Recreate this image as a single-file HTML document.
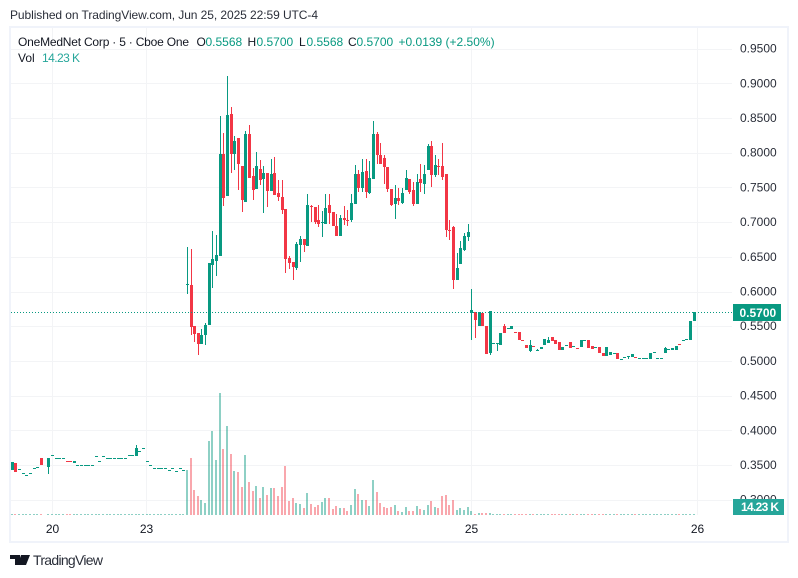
<!DOCTYPE html>
<html lang="en">
<head>
<meta charset="utf-8">
<title>OneMedNet Corp chart</title>
<style>
html,body{margin:0;padding:0;background:#fff;width:798px;height:578px;overflow:hidden}
svg{display:block;font-family:"Liberation Sans",sans-serif;font-size:12px;fill:#131722}
</style>
</head>
<body>
<svg id="chart" width="798" height="578" viewBox="0 0 798 578" xmlns="http://www.w3.org/2000/svg">
  <text x="10" y="19" textLength="308" fill="#2a2e39">Published on TradingView.com, Jun 25, 2025 22:59 UTC-4</text>
  <rect x="10" y="27" width="778" height="515" fill="none" stroke="#f0f3fa" stroke-width="2"/>
  <g id="grid"></g>
  <g id="volumes"></g>
  <g id="candles"></g>
  <line id="priceLine" x1="11" x2="732" stroke="#089981" stroke-width="1" stroke-dasharray="1 2"/>
  <g id="yAxis"></g>
  <g id="xAxis"></g>
  <rect id="lastBox" x="733" y="304" width="48" height="17" fill="#089981"/>
  <text id="lastText" x="739.5" y="317" fill="#fff" font-weight="bold">0.5700</text>
  <rect x="733" y="499" width="51" height="16" fill="#26a69a"/>
  <text x="741" y="511" textLength="38" fill="#fff" font-weight="bold">14.23 K</text>
  <g>
    <text x="18" y="46" textLength="171" fill="#131722">OneMedNet Corp · 5 · Cboe One</text>
    <text x="196.5" y="46">O<tspan x="205.5" fill="#089981">0.5568</tspan></text>
    <text x="247.5" y="46">H<tspan x="256.5" fill="#089981">0.5700</tspan></text>
    <text x="299" y="46">L<tspan x="306.5" fill="#089981">0.5568</tspan></text>
    <text x="348" y="46">C<tspan x="356.5" fill="#089981">0.5700</tspan></text>
    <text x="398.5" y="46" fill="#089981">+0.0139 (+2.50%)</text>
    <text x="18" y="62">Vol</text>
    <text x="42" y="62" textLength="38" fill="#26a69a">14.23 K</text>
  </g>
  <g>
    <path d="M10 555H20V565H15V559H10ZM21 555H26L22 565H17.6ZM26 555H30L26 565H22Z" fill="#131722"/>
    <circle cx="23" cy="557" r="2" fill="#131722"/>
    <text x="33" y="565" font-size="14" textLength="70" fill="#2a2e39">TradingView</text>
  </g>
</svg>
<script>
const priceTicks = [0.95,0.90,0.85,0.80,0.75,0.70,0.65,0.60,0.55,0.50,0.45,0.40,0.35,0.30];
const timeTickLabels = ["20","23","25","26"];
const timeTickBars = [10.9,36.7,125.8,187.7];
const lastPrice = 0.57;
const opens = [
.3428,.3529,.3438,.3385,.3356,.3385,.3457,.3471,.3601,null,
.3471,.3644,.3597,.3597,.3597,.3560,.3560,.3529,.3500,.3500,
.3500,.3500,.3500,.3630,.3562,.3630,.3601,.3601,.3601,.3601,
.3601,.3601,.3640,.3640,.3630,.3702,.3745,.3558,.3500,.3457,
.3457,.3457,.3457,.3428,.3457,.3414,.3457,.3428,
.6107,.6093,.5503,.5402,.5248,.5373,.5517,.6381,.6439,.6511,
.7980,.7376,.8557,.7980,.8211,.7808,.7289,.8269,.7664,.7476,
.7765,.7620,.7707,.7448,.7707,.7419,.7361,.7188,.6482,.6424,
.6338,.6670,.6756,.6655,.7237,.7217,.7030,.7001,.6972,.7246,
.7145,.6944,.6800,.7059,.7032,.7030,.7260,.7692,.7490,.7736,
.7419,.7620,.8269,.7966,.7923,.7793,.7476,.7260,.7347,.7275,
.7462,.7620,.7462,.7260,.7620,.7548,.7750,.8096,.7678,.7810,
.7808,.7692,.6888,.6929,.6165,.6396,.6598,.6785,
.5690,.5704,.5503,.5690,.5503,.5114,.5258,.5258,.5229,.5503,
.5474,.5460,.5418,.5416,.5303,.5229,.5143,.5216,.5157,.5171,
.5229,.5258,.5344,.5301,.5272,.5157,.5229,.5272,.5219,.5193,
.5200,.5301,.5301,.5214,.5200,.5200,.5114,.5070,.5085,.5114,
.5114,.5022,.5051,.5070,.5056,.5058,.5041,.5037,.5037,.5027,
.5128,.5037,.5037,.5114,.5167,.5157,.5157,.5246,.5301,.5311,
.5301,.5568];
const highs = [
.3543,.3529,.3438,.3385,.3356,.3385,.3457,.3471,.3601,null,
.3601,.3644,.3597,.3597,.3597,.3560,.3560,.3558,.3500,.3500,
.3500,.3500,.3500,.3630,.3562,.3630,.3601,.3601,.3601,.3601,
.3601,.3601,.3640,.3640,.3788,.3702,.3745,.3558,.3500,.3457,
.3457,.3457,.3457,.3428,.3457,.3414,.3457,.3428,
.6641,.6612,.5503,.5402,.5455,.5546,.6405,.6872,.6814,.8528,
.8283,.9105,.8658,.8240,.8211,.7808,.8312,.8399,.7779,.8010,
.7894,.7808,.7707,.7909,.7937,.7606,.7606,.7188,.6511,.6424,
.6713,.6799,.6756,.7404,.7246,.7217,.7246,.7160,.7404,.7404,
.7145,.7116,.7102,.7232,.7174,.7404,.7822,.7750,.7909,.7909,
.7880,.8456,.8298,.8139,.7966,.7793,.7476,.7534,.7491,.7491,
.7750,.7620,.7577,.7692,.7836,.7822,.8125,.8168,.7966,.7909,
.8139,.7692,.7030,.6944,.6554,.6728,.6843,.6972,
.6035,.5704,.5704,.5690,.5503,.5719,.5258,.5258,.5402,.5532,
.5474,.5503,.5418,.5416,.5303,.5229,.5301,.5216,.5171,.5200,
.5316,.5344,.5344,.5301,.5272,.5200,.5229,.5272,.5219,.5193,
.5301,.5301,.5301,.5214,.5200,.5200,.5114,.5200,.5128,.5114,
.5114,.5022,.5051,.5070,.5099,.5058,.5041,.5037,.5037,.5114,
.5128,.5037,.5037,.5200,.5167,.5186,.5214,.5246,.5301,.5311,
.5575,.5700];
const lows = [
.3428,.3399,.3438,.3385,.3356,.3385,.3457,.3471,.3500,null,
.3370,.3644,.3597,.3597,.3597,.3556,.3556,.3529,.3500,.3500,
.3500,.3500,.3500,.3630,.3562,.3630,.3601,.3601,.3601,.3601,
.3601,.3601,.3640,.3640,.3630,.3702,.3745,.3558,.3500,.3457,
.3457,.3457,.3457,.3428,.3457,.3414,.3457,.3428,
.5968,.5373,.5272,.5085,.5248,.5229,.5517,.6050,.6222,.6511,
.7236,.7376,.7707,.7750,.7462,.7145,.7289,.7635,.7318,.7476,
.7534,.7135,.7217,.7448,.7390,.7304,.7116,.6266,.6323,.6165,
.6309,.6424,.6569,.6655,.7001,.6972,.6929,.6785,.6972,.6972,
.6944,.6800,.6800,.6958,.6944,.7001,.7260,.7433,.7433,.7347,
.7404,.7620,.7836,.7836,.7548,.7433,.7232,.7044,.7246,.7260,
.7462,.7404,.7232,.7260,.7433,.7404,.7750,.7505,.7649,.7678,
.7606,.6785,.6742,.6035,.6165,.6396,.6583,.6728,
.5301,.5330,.5503,.5503,.5099,.5085,.5258,.5143,.5229,.5402,
.5474,.5460,.5414,.5301,.5299,.5186,.5128,.5212,.5157,.5171,
.5229,.5258,.5287,.5244,.5157,.5157,.5229,.5186,.5219,.5189,
.5200,.5301,.5186,.5171,.5200,.5114,.5070,.5070,.5085,.5114,
.5027,.5022,.5051,.5027,.5056,.5041,.5041,.5037,.5037,.5027,
.5128,.5037,.5037,.5114,.5167,.5157,.5157,.5242,.5301,.5311,
.5301,.5568];
const closes = [
.3543,.3399,.3438,.3385,.3356,.3385,.3457,.3471,.3500,null,
.3601,.3644,.3597,.3597,.3597,.3556,.3556,.3558,.3500,.3500,
.3500,.3500,.3500,.3630,.3562,.3630,.3601,.3601,.3601,.3601,
.3601,.3601,.3640,.3640,.3745,.3702,.3745,.3558,.3500,.3457,
.3457,.3457,.3457,.3428,.3457,.3414,.3457,.3428,
.6107,.5493,.5388,.5248,.5373,.5517,.6405,.6463,.6521,.7980,
.7351,.8543,.7980,.8168,.7836,.7318,.8269,.7635,.7462,.7808,
.7606,.7707,.7448,.7692,.7390,.7361,.7174,.6467,.6410,.6352,
.6684,.6756,.6670,.7246,.7232,.7001,.6972,.7001,.7203,.7131,
.6944,.6800,.7059,.7030,.7028,.7275,.7692,.7490,.7721,.7433,
.7635,.8269,.7966,.7836,.7793,.7476,.7246,.7347,.7304,.7419,
.7635,.7433,.7260,.7577,.7563,.7692,.8096,.7678,.7822,.7806,
.7649,.6886,.6884,.6165,.6338,.6627,.6800,.6857,
.5733,.5589,.5704,.5503,.5099,.5719,.5258,.5258,.5402,.5402,
.5474,.5503,.5414,.5301,.5299,.5186,.5229,.5212,.5157,.5200,
.5316,.5301,.5287,.5244,.5157,.5200,.5229,.5186,.5219,.5189,
.5301,.5301,.5186,.5171,.5200,.5114,.5070,.5200,.5128,.5114,
.5027,.5022,.5051,.5070,.5099,.5054,.5041,.5037,.5037,.5114,
.5128,.5037,.5037,.5186,.5167,.5186,.5214,.5242,.5301,.5311,
.5575,.5700];
const volumesK = [
10,10,10,10,10,10,10,10,10,null,
10,10,10,10,10,10,10,10,10,10,
10,10,10,10,10,10,10,10,10,10,
10,10,10,10,10,10,10,10,10,10,
10,10,10,10,10,10,10,10,
450,570,250,190,150,120,740,840,550,1220,
660,890,610,440,430,280,600,330,240,290,
170,280,200,270,270,190,280,490,140,170,
120,110,70,220,110,80,100,130,170,170,
60,90,70,70,40,100,260,210,150,150,
90,350,230,120,80,70,80,100,40,30,
80,40,40,90,60,50,100,140,80,70,
190,200,100,150,50,70,50,80,
40,10,20,20,20,20,10,10,10,10,
10,10,10,10,10,10,10,10,10,10,
10,10,10,10,10,10,10,10,10,10,
10,10,10,10,10,10,10,10,10,10,
10,10,10,10,10,10,10,10,10,10,
10,10,10,10,10,10,10,10,10,10,
10,14.23];

const NS = "http://www.w3.org/2000/svg";
const UP = "#089981", DOWN = "#f23645";
const UP_VOL = "rgba(8,153,129,0.46)", DOWN_VOL = "rgba(242,54,69,0.44)";
const xScale = i => 12.3 + i * 3.647;
const yScale = p => 83.3 + (0.9 - p) * 694;
const volScale = v => 515 - v * 0.1;

function shape(tag, parent, props) {
  const el = document.createElementNS(NS, tag);
  for (const k in props) el.setAttribute(k, props[k]);
  parent.appendChild(el);
  return el;
}
const gridG = document.getElementById("grid");
const yG = document.getElementById("yAxis");
const xG = document.getElementById("xAxis");
const candleG = document.getElementById("candles");
const volG = document.getElementById("volumes");

priceTicks.forEach(p => {
  const y = Math.round(yScale(p)) + 0.5;
  const line = shape("line", gridG, {x1: 11, x2: 732, y1: y, y2: y, stroke: "#f3f4f6", "stroke-width": 1});
  
  
  const label = shape("text", yG, {x: 740, y: yScale(p) + 4, fill: "#2a2e39"});
  
  
  label.textContent = p.toFixed(4);
});
timeTickBars.forEach((b, k) => {
  const x = Math.round(xScale(b)) + 0.5;
  const line = shape("line", gridG, {x1: x, x2: x, y1: 28, y2: 515, stroke: "#f3f4f6", "stroke-width": 1});
  
  
  const label = shape("text", xG, {x: x, y: 533, "text-anchor": "middle", fill: "#131722"});
  
  
  label.textContent = timeTickLabels[k];
});

opens.forEach((o, i) => {
  if (o === null) return;
  const c = closes[i], h = highs[i], l = lows[i];
  const color = c >= o ? UP : DOWN;
  const cx = Math.floor(xScale(i));
  const g = shape("g", candleG, {});
  
  
  const yH = Math.round(yScale(h)), yL = Math.round(yScale(l));
  if (yL > yH) {
    const wick = shape("rect", g, {x: cx, y: yH, width: 1, height: yL - yH, fill: color});
    
    
  }
  const top = Math.round(yScale(Math.max(o, c))), bot = Math.round(yScale(Math.min(o, c)));
  const body = shape("rect", g, {x: cx - 1, y: top, width: 3, height: Math.max(1, bot - top), fill: color});
  
  
  const v = volumesK[i];
  const vTop = Math.round(volScale(v));
  const bar = shape("rect", volG, {x: cx - 1, y: Math.min(vTop, 514), width: 2, height: Math.max(1, 515 - vTop), fill: c >= o ? UP_VOL : DOWN_VOL});
  
  
});

const py = Math.round(yScale(lastPrice)) + 0.5;
const pl = document.getElementById("priceLine");
pl.setAttribute("y1", py);
pl.setAttribute("y2", py);
</script>
</body>
</html>
